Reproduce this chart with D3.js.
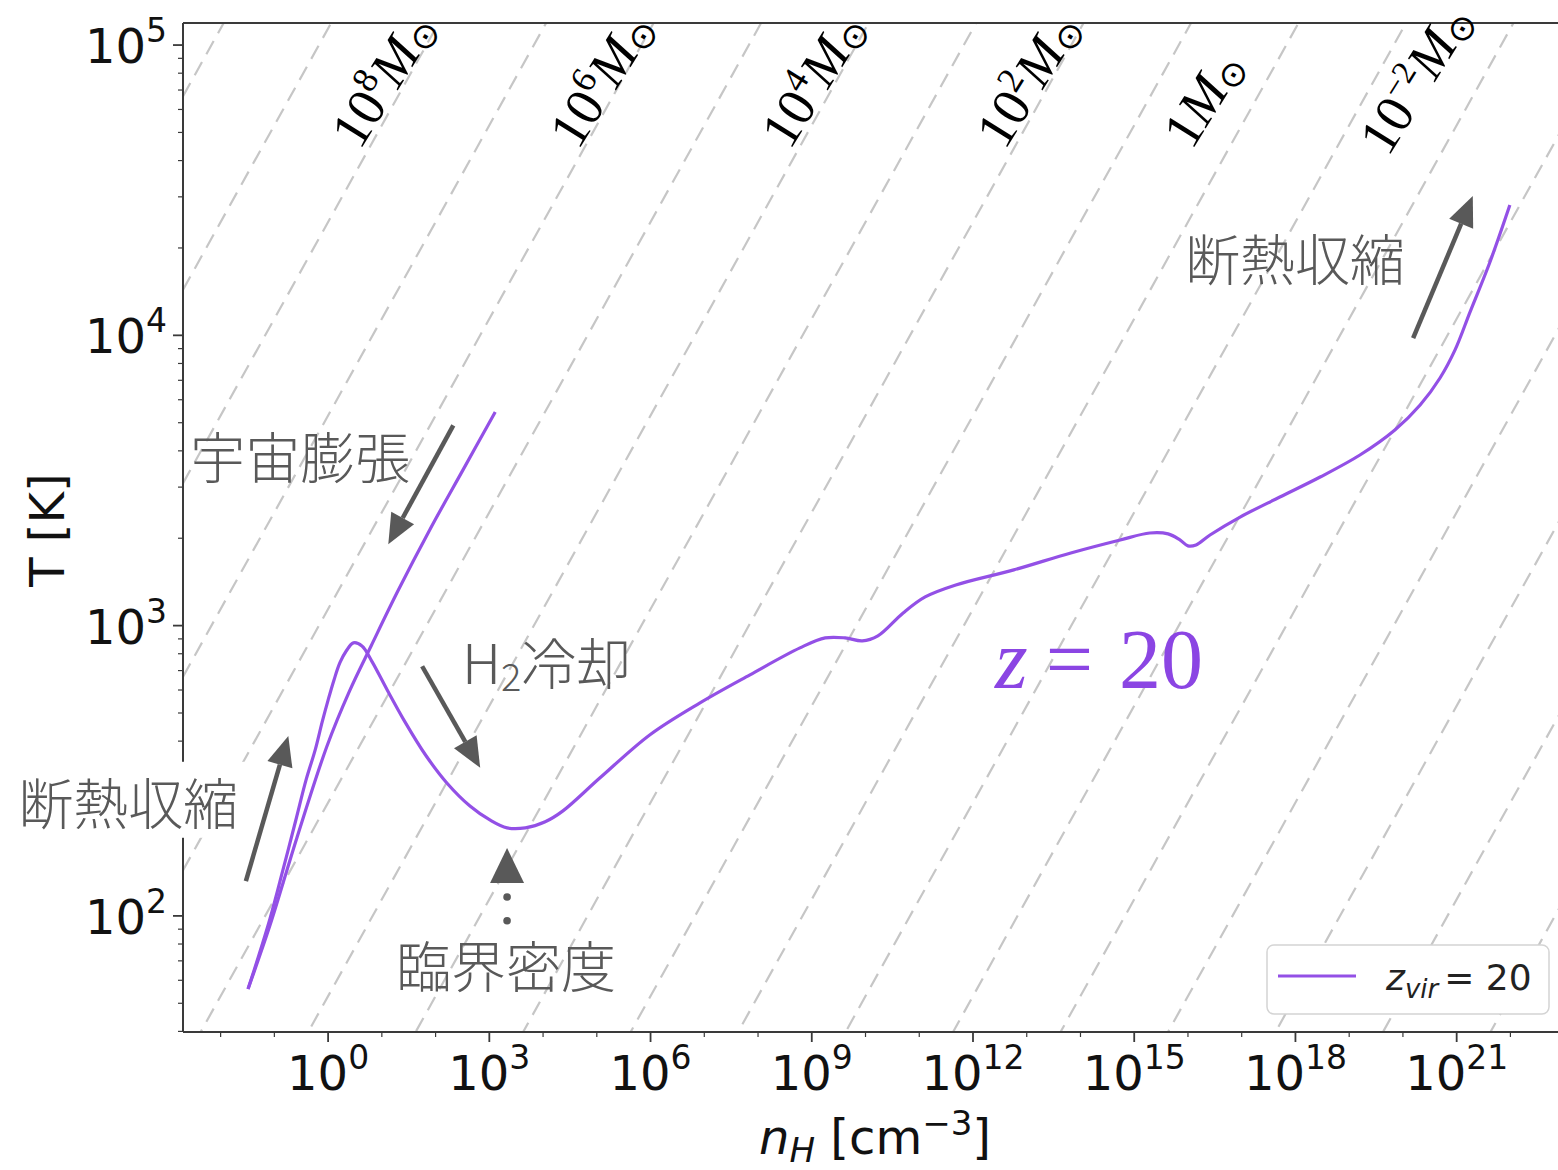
<!DOCTYPE html>
<html>
<head>
<meta charset="utf-8">
<script src="https://cdn.jsdelivr.net/npm/d3@7"></script>
<style>
    html, body { margin: 0; padding: 0; background: #fff; }
    svg { display: block; }
</style>
</head>
<body>
<svg id="chart" width="1558" height="1170"></svg>
<script>
(function(){
    "use strict";

    // collapse track for z_vir = 20 : log10(nH [cm^-3]) and T [K]
    var collapseLogN = [-1.49, -1.30, -1.08, -0.84, -0.60, -0.41, -0.24, -0.11, 0.00, 0.11, 0.22, 0.34, 0.47,
        0.63, 0.82, 1.10, 1.43, 1.81, 2.21, 2.64, 3.01, 3.33, 3.67, 4.04, 4.37, 5.06, 5.99, 6.92, 7.85,
        8.78, 9.25, 9.62, 9.94, 10.23, 10.70, 11.11, 11.68, 12.76, 13.82, 14.74, 15.29, 15.63, 15.85,
        16.00, 16.15, 16.41, 16.97, 17.71, 18.46, 19.20, 19.85, 20.32, 20.69, 20.97, 21.25, 21.62, 21.99];
    var collapseT = [56, 72, 98, 144, 214, 294, 373, 466, 554, 650, 745, 819, 872,
        851, 750, 600, 466, 359, 287, 239, 214, 201, 201, 211, 230, 299, 421, 542, 677,
        838, 907, 907, 886, 922, 1106, 1256, 1381, 1556, 1780, 1973, 2085, 2070, 1973,
        1883, 1897, 2052, 2366, 2773, 3250, 3870, 4720, 5754, 7130, 8910, 12050, 17900, 28100];

    // cosmic expansion branch (same units)
    var expansionLogN = [-1.49, -1.08, -0.58, -0.02, 0.40, 0.80, 1.30, 1.90, 2.50, 3.11];
    var expansionT = [56, 93, 186, 385, 596, 851, 1318, 2153, 3412, 5445];

    // constant Jeans mass lines, log10(M / Msun)
    var jeansMassExp = [-8, -7, -6, -5, -4, -3, -2, -1, 0, 1, 2, 3, 4, 5, 6, 7, 8, 9, 10, 11];
    var jeansOffset = -0.943;

    // mass labels along the top
    var massLabelExp = [8, 6, 4, 2, 0, -2];
    var massLabelLogN = [0.59, 4.65, 8.59, 12.59, 16.07, 19.72];
    var massLabelLogT = [4.635, 4.635, 4.635, 4.635, 4.635, 4.612];

    var xTickExp = [0, 3, 6, 9, 12, 15, 18, 21];
    var yTickExp = [2, 3, 4, 5];

    // annotation arrows: [log n, log T] tail -> tip
    var arrows = [
        [[2.33, 3.69], [1.12, 3.28]],
        [[1.75, 2.86], [2.83, 2.51]],
        [[-1.53, 2.12], [-0.74, 2.62]],
        [[20.19, 3.99], [21.30, 4.48]]
    ];
    var criticalMark = {logN: 3.33, tipLogT: 2.234, dotLogT: [2.065, 1.983]};

    var notes = [
        {text: "宇宙膨張", logN: -0.52, logT: 3.59, anchor: "middle"},
        {text: "臨界密度", logN: 3.31, logT: 1.838, anchor: "middle"},
        {text: "断熱収縮", logN: 17.99, logT: 4.275, anchor: "middle"},
        {text: "断熱収縮", logN: -3.72, logT: 2.40, anchor: "middle", box: true}
    ];

    var purple = "#9350e6";
    var grey = "#595959";

    var svg = d3.select("#chart");
    var left = 183, right = 1562, top = 23, bottom = 1032;

    var x = d3.scaleLog().domain([Math.pow(10, -2.70), Math.pow(10, 22.96)]).range([left, right]);
    var y = d3.scaleLog().domain([Math.pow(10, 1.6), Math.pow(10, 5.076)]).range([bottom, top]);

    function px(logN){ return x(Math.pow(10, logN)); }
    function py(logT){ return y(Math.pow(10, logT)); }

    svg.append("defs").append("clipPath").attr("id", "plotClip")
        .append("rect").attr("x", left).attr("y", top)
        .attr("width", right - left).attr("height", bottom - top);

    /*
        dashed lines of constant Jeans mass, T ~ n^(1/3)
    */
    var jeansG = svg.append("g").attr("clip-path", "url(#plotClip)");
    jeansMassExp.forEach(function(m){
        var ends = [-4, 25];
        jeansG.append("line")
            .attr("x1", px(ends[0]))
            .attr("y1", py(ends[0] / 3 + 2 / 3 * m + jeansOffset))
            .attr("x2", px(ends[1]))
            .attr("y2", py(ends[1] / 3 + 2 / 3 * m + jeansOffset))
            .attr("stroke", "#c6c6c6")
            .attr("stroke-width", 2.2)
            .attr("stroke-dasharray", "15,9");
    });

    /*
        the temperature tracks
    */
    var line = d3.line()
        .x(function(d){ return px(d[0]); })
        .y(function(d){ return y(d[1]); })
        .curve(d3.curveCatmullRom.alpha(0.5));

    var trackG = svg.append("g").attr("clip-path", "url(#plotClip)");
    [[expansionLogN, expansionT], [collapseLogN, collapseT]].forEach(function(s){
        trackG.append("path")
            .datum(d3.zip(s[0], s[1]))
            .attr("d", line)
            .attr("fill", "none")
            .attr("stroke", purple)
            .attr("stroke-width", 3.2)
            .attr("stroke-linejoin", "round");
    });

    /*
        axes: spines, ticks and labels
    */
    var axisColor = "#3a3a3a";
    var axG = svg.append("g");
    axG.append("line").attr("x1", left).attr("x2", left).attr("y1", top).attr("y2", bottom)
        .attr("stroke", axisColor).attr("stroke-width", 2);
    axG.append("line").attr("x1", left).attr("x2", right).attr("y1", bottom).attr("y2", bottom)
        .attr("stroke", axisColor).attr("stroke-width", 2);
    axG.append("line").attr("x1", left).attr("x2", right).attr("y1", top).attr("y2", top)
        .attr("stroke", axisColor).attr("stroke-width", 2);

    var sans = "'DejaVu Sans', sans-serif";

    // x ticks: major every 3 decades, minor at the other decades
    for(var e = -2; e <= 22; e++){
        var isMajor = xTickExp.indexOf(e) !== -1;
        axG.append("line")
            .attr("x1", px(e)).attr("x2", px(e))
            .attr("y1", bottom).attr("y2", bottom + (isMajor ? 10 : 5))
            .attr("stroke", axisColor).attr("stroke-width", isMajor ? 1.8 : 1.2);
    }
    xTickExp.forEach(function(e){
        var t = axG.append("text")
            .attr("x", px(e)).attr("y", 1090)
            .attr("text-anchor", "middle")
            .style("font-family", sans).style("font-size", "48px").attr("fill", "#111");
        t.append("tspan").text("10");
        t.append("tspan").attr("dy", -21).style("font-size", "33px").text(e);
    });

    // y ticks: major each decade, minor at 2..9
    for(var k = 1; k <= 5; k++){
        for(var s = 1; s <= 9; s++){
            var v = s * Math.pow(10, k);
            var lv = Math.log10(v);
            if(lv < 1.6 || lv > 5.076){ continue; }
            axG.append("line")
                .attr("x1", left).attr("x2", left - (s === 1 ? 10 : 5))
                .attr("y1", y(v)).attr("y2", y(v))
                .attr("stroke", axisColor).attr("stroke-width", s === 1 ? 1.8 : 1.2);
        }
    }
    yTickExp.forEach(function(e){
        var t = axG.append("text")
            .attr("x", 167).attr("y", py(e) + 18)
            .attr("text-anchor", "end")
            .style("font-family", sans).style("font-size", "48px").attr("fill", "#111");
        t.append("tspan").text("10");
        t.append("tspan").attr("dy", -21).style("font-size", "33px").text(e);
    });

    // axis titles
    axG.append("text")
        .attr("transform", "translate(64,530) rotate(-90)")
        .attr("text-anchor", "middle")
        .style("font-family", sans).style("font-size", "48px").attr("fill", "#111")
        .text("T [K]");

    var xl = axG.append("text")
        .attr("x", 875).attr("y", 1154)
        .attr("text-anchor", "middle")
        .style("font-family", sans).style("font-size", "48px").attr("fill", "#111");
    xl.append("tspan").style("font-style", "italic").text("n");
    xl.append("tspan").attr("dy", 8).style("font-style", "italic").style("font-size", "34px").text("H");
    xl.append("tspan").attr("dy", -8).text(" [cm");
    xl.append("tspan").attr("dy", -19).style("font-size", "34px").text("\u22123");
    xl.append("tspan").attr("dy", 19).text("]");

    /*
        Jeans mass labels
    */
    var serif = "'Liberation Serif', 'Times New Roman', serif";
    massLabelExp.forEach(function(m, i){
        var t = svg.append("text")
            .attr("transform", "translate(" + px(massLabelLogN[i]) + "," + py(massLabelLogT[i]) + ") rotate(-58)")
            .style("font-family", serif).style("font-size", "54px").attr("fill", "#000");
        if(m === 0){
            t.append("tspan").text("1");
            t.append("tspan").style("font-style", "italic").text("M");
        } else {
            t.append("tspan").text("10");
            t.append("tspan").attr("dy", -21).style("font-size", m < 0 ? "33px" : "36px")
                .text(m < 0 ? "\u2212" + (-m) : m);
            t.append("tspan").attr("dy", 21).style("font-style", "italic").text("M");
        }
        t.append("tspan").attr("dy", 6).style("font-size", "35px")
            .style("font-family", "'DejaVu Sans', sans-serif").text("\u2299");
    });

    /*
        annotation arrows
    */
    function drawArrow(from, to){
        var x1 = px(from[0]), y1 = py(from[1]);
        var x2 = px(to[0]), y2 = py(to[1]);
        var ang = Math.atan2(y2 - y1, x2 - x1);
        var hl = 30, hw = 13;
        var bx = x2 - hl * Math.cos(ang), by = y2 - hl * Math.sin(ang);
        svg.append("line")
            .attr("x1", x1).attr("y1", y1).attr("x2", bx).attr("y2", by)
            .attr("stroke", grey).attr("stroke-width", 4.5);
        svg.append("polygon")
            .attr("points", [
                [x2, y2],
                [bx + hw * Math.sin(ang), by - hw * Math.cos(ang)],
                [bx - hw * Math.sin(ang), by + hw * Math.cos(ang)]
            ].map(function(p){ return p.join(","); }).join(" "))
            .attr("fill", grey);
    }
    arrows.forEach(function(a){ drawArrow(a[0], a[1]); });

    // critical density marker: triangle with dotted stem
    var cx = px(criticalMark.logN), tipY = py(criticalMark.tipLogT);
    svg.append("polygon")
        .attr("points", [[cx, tipY], [cx - 17, tipY + 35], [cx + 17, tipY + 35]]
            .map(function(p){ return p.join(","); }).join(" "))
        .attr("fill", grey);
    criticalMark.dotLogT.forEach(function(lt){
        svg.append("circle").attr("cx", cx).attr("cy", py(lt)).attr("r", 3.8).attr("fill", grey);
    });

    /*
        japanese notes
    */
    var cjk = "'Noto Sans CJK JP', 'Noto Sans CJK SC', sans-serif";
    notes.forEach(function(n){
        var t = svg.append("text")
            .attr("x", px(n.logN)).attr("y", py(n.logT))
            .attr("text-anchor", n.anchor)
            .attr("dominant-baseline", "central")
            .style("font-family", cjk).style("font-size", "55px").style("font-weight", 300)
            .attr("fill", grey)
            .text(n.text);
        if(n.box){
            var bb = t.node().getBBox();
            svg.insert("rect", function(){ return t.node(); })
                .attr("x", bb.x - 10).attr("y", bb.y + 2)
                .attr("width", bb.width + 20).attr("height", bb.height - 4)
                .attr("fill", "#fff");
        }
    });

    var h2 = svg.append("text")
        .attr("x", px(2.49)).attr("y", py(2.882))
        .attr("dominant-baseline", "central")
        .style("font-family", cjk).style("font-size", "55px").style("font-weight", 300)
        .attr("fill", grey);
    h2.append("tspan").text("H");
    h2.append("tspan").attr("dy", 14).style("font-size", "38px").text("2");
    h2.append("tspan").attr("dy", -14).text("冷却");

    // z = 20 label
    var zl = svg.append("text")
        .attr("x", px(12.41)).attr("y", py(2.785))
        .style("font-family", serif).style("font-size", "84px").attr("fill", "#8b45e3");
    zl.append("tspan").style("font-style", "italic").text("z");
    zl.append("tspan").attr("dx", 18).text("=");
    zl.append("tspan").attr("dx", 26).text("20");

    /*
        legend, lower right
    */
    var lg = svg.append("g");
    lg.append("rect")
        .attr("x", 1267).attr("y", 945).attr("width", 282).attr("height", 69)
        .attr("rx", 7).attr("fill", "#fff").attr("stroke", "#d4d4d4").attr("stroke-width", 1.5);
    lg.append("line")
        .attr("x1", 1278).attr("x2", 1356).attr("y1", 976).attr("y2", 976)
        .attr("stroke", purple).attr("stroke-width", 3.2);
    var lt = lg.append("text")
        .attr("x", 1386).attr("y", 990)
        .style("font-family", sans).style("font-size", "36px").attr("fill", "#222");
    lt.append("tspan").style("font-style", "italic").text("z");
    lt.append("tspan").attr("dy", 8).style("font-style", "italic").style("font-size", "26px").text("vir");
    lt.append("tspan").attr("dy", -8).attr("dx", 6).text("= 20");
}());
</script>
</body>
</html>
